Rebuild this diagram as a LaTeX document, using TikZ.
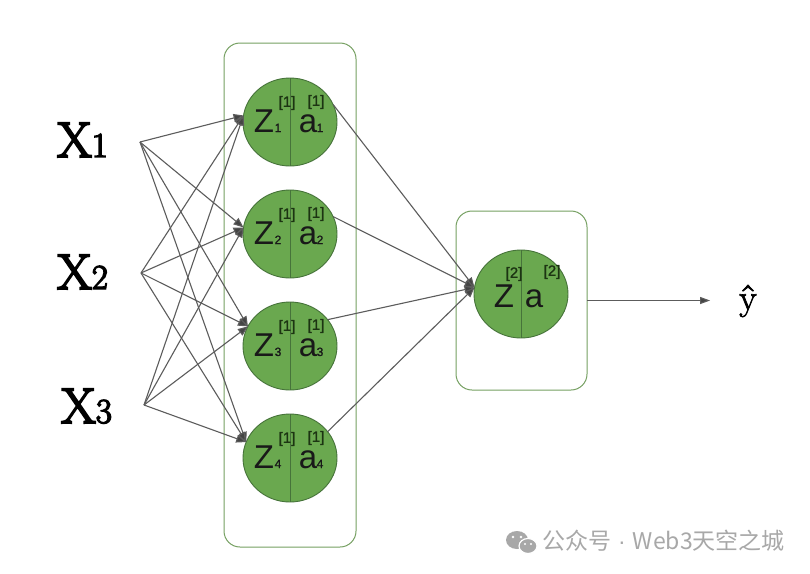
\documentclass[tikz,border=0pt]{standalone}
\usepackage{fontspec}
\newfontfamily\arial{Liberation Sans}
\newfontfamily\arialbold[FakeBold=1.2]{Liberation Sans}
\newfontfamily\lmfat[FakeBold=4]{Latin Modern Roman}
\newfontfamily\lmsemi[FakeBold=2]{Latin Modern Roman}
\newfontfamily\cjk{Noto Sans CJK SC}
\usetikzlibrary{arrows.meta,shapes.geometric}
\definecolor{nfill}{HTML}{6AA84F}
\definecolor{nline}{HTML}{46733A}
\definecolor{boxline}{HTML}{76A062}
\definecolor{edgec}{HTML}{5C5C5C}
\definecolor{tipc}{HTML}{444444}
\definecolor{supc}{HTML}{1C3412}
\definecolor{wm}{HTML}{A8A8A8}
\begin{document}
\begin{tikzpicture}[x=1pt,y=-1pt,
  neuron/.style={ellipse, draw=nline, fill=nfill, line width=0.9pt, minimum width=94pt, minimum height=88pt, inner sep=0pt, outer sep=0pt},
  layerbox/.style={draw=boxline, rounded corners=16pt, line width=1pt, inner sep=0pt, outer sep=0pt},
  conn/.style={draw=edgec, line width=1.1pt, -{Triangle[length=10pt,width=8pt,fill=tipc]}},
  bigz/.style={font=\arial\fontsize{33}{33}\selectfont, text=black!90, inner sep=0pt, anchor=base, text height=24pt, text depth=0pt},
  biga/.style={font=\arial\fontsize{33}{33}\selectfont, text=black!90, inner sep=0pt, anchor=base, text height=17pt, text depth=0pt},
  subs/.style={font=\arialbold\fontsize{12}{12}\selectfont, text=black!90, inner sep=0pt, anchor=base},
  sups/.style={font=\arialbold\fontsize{15}{15}\selectfont, text=supc, inner sep=0pt},
  inp/.style={font=\lmfat\fontsize{50}{50}\selectfont, inner sep=0pt, anchor=base west},
  divider/.style={draw=nline, line width=0.8pt}
]
\useasboundingbox (0,0) rectangle (810,573);
\fill[white] (0,0) rectangle (810,573);

% layer boxes
\node[layerbox, minimum width=132pt, minimum height=504pt] (L1) at (290,295) {};
\node[layerbox, minimum width=131pt, minimum height=179pt] (L2) at (521.5,300.5) {};

% inputs
\node[inp] (x1) at (57,157) {X{\fontsize{35}{35}\selectfont 1}};
\node[inp] (x2) at (57,289) {X{\fontsize{35}{35}\selectfont 2}};
\node[inp] (x3) at (61,423) {X{\fontsize{35}{35}\selectfont 3}};
\coordinate (p1) at (140,142);
\coordinate (p2) at (141,273);
\coordinate (p3) at (144,405);

% hidden neurons
\foreach \i/\y in {1/122,2/234,3/346,4/458}{
  \node[neuron] (n\i) at (290,\y) {};
  \draw[divider] (n\i.north) -- (n\i.south);
  \node[bigz] (z\i) at ([shift={(-26,10)}]n\i.center) {Z};
  \node[subs] (zs\i) at ([shift={(-12,10)}]n\i.center) {\i};
  \node[sups] (zu\i) at ([shift={(-3,-19)}]n\i.center) {[1]};
  \node[biga] (a\i) at ([shift={(18,10)}]n\i.center) {a};
  \node[subs] (as\i) at ([shift={(30,10)}]n\i.center) {\i};
  \node[sups] (au\i) at ([shift={(26,-20)}]n\i.center) {[1]};
}

% output neuron
\node[neuron] (o) at (521,294) {};
\draw[divider] (o.north) -- (o.south);
\node[bigz] (oz) at ([shift={(-17,13)}]o.center) {Z};
\node[biga] (oa) at ([shift={(13,13)}]o.center) {a};
\node[sups] (ozu) at ([shift={(-7,-20)}]o.center) {[2]};
\node[sups] (oau) at ([shift={(31,-22)}]o.center) {[2]};

% input connections
\foreach \p in {p1,p2,p3}{
  \draw[conn] (\p) -- (n1.172);
  \draw[conn] (\p) -- (n2.172);
  \draw[conn] (\p) -- (n3.155);
  \draw[conn] (\p) -- (n4.160);
}

% hidden to output
\draw[conn] (n1.22) -- (o.172);
\draw[conn] (n2.22) -- (o.172);
\draw[conn] (n3.35) -- (o.172);
\draw[conn] (n4.35) -- (o.172);

% output
\node[font=\lmsemi\fontsize{36}{36}\selectfont, inner sep=0pt] (yhat) at (748,301) {ŷ};
\draw[draw=edgec, line width=1.1pt, -{Triangle[length=10pt,width=7pt,fill=tipc]}, shorten >=29pt] (L2.east) -- (L2.east -| yhat.west);

% watermark
\fill[wm] (517,540) ellipse (11pt and 9pt);
\fill[wm, draw=white, line width=1.2pt] (528,546) ellipse (9pt and 7.5pt);
\fill[white] (513,537) circle (1.3pt) (521,537) circle (1.3pt) (525,544) circle (1.1pt) (531,544) circle (1.1pt);
\node[font=\cjk\fontsize{23}{23}\selectfont, text=wm, inner sep=0pt, anchor=west] (wmt) at (542,541) {公众号\hspace{7pt}{\arial ·}\hspace{7pt}Web3天空之城};
\end{tikzpicture}
\end{document}
